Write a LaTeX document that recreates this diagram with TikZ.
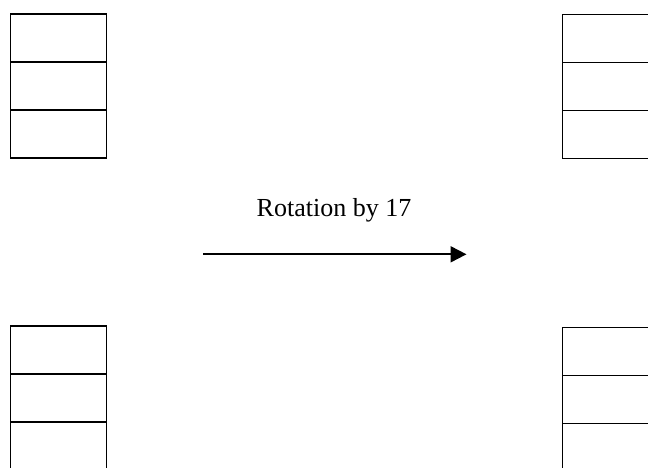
\documentclass[tikz,border=0pt]{standalone}
\usepackage{fontspec}
\setmainfont{Liberation Serif}
\usetikzlibrary{arrows.meta}
\begin{document}
\begin{tikzpicture}[x=1pt,y=-1pt,
  cell/.style={draw,line width=1.1pt,minimum width=96pt,minimum height=48pt,inner sep=0pt,outer sep=0pt,anchor=north west},
  arr/.style={line width=2pt,-{Triangle[length=16pt,width=16pt]}},
  lbl/.style={font=\fontsize{26}{30}\selectfont,anchor=base,inner sep=0pt}]
\useasboundingbox (0,0) rectangle (648,467);
\clip (0,0) rectangle (648,467);
% top left stack
\node[cell] (tl1) at (10.5,14) {};
\node[cell] (tl2) at (10.5,62) {};
\node[cell] (tl3) at (10.5,110) {};
% top right stack
\node[cell] (tr1) at (562.5,14.5) {};
\node[cell] (tr2) at (562.5,62.5) {};
\node[cell] (tr3) at (562.5,110.5) {};
% bottom left stack
\node[cell] (bl1) at (10.5,326) {};
\node[cell] (bl2) at (10.5,374) {};
\node[cell] (bl3) at (10.5,422) {};
% bottom right stack
\node[cell] (br1) at (562.5,327.5) {};
\node[cell] (br2) at (562.5,375.5) {};
\node[cell] (br3) at (562.5,423.5) {};
% label and arrow
\node[lbl] (lab) at (334,216.7) {Rotation by 17};
\coordinate (as) at (203,254.3);
\coordinate (ae) at (466.5,254.3);
\draw[arr] (as) -- (ae);
\end{tikzpicture}
\end{document}
